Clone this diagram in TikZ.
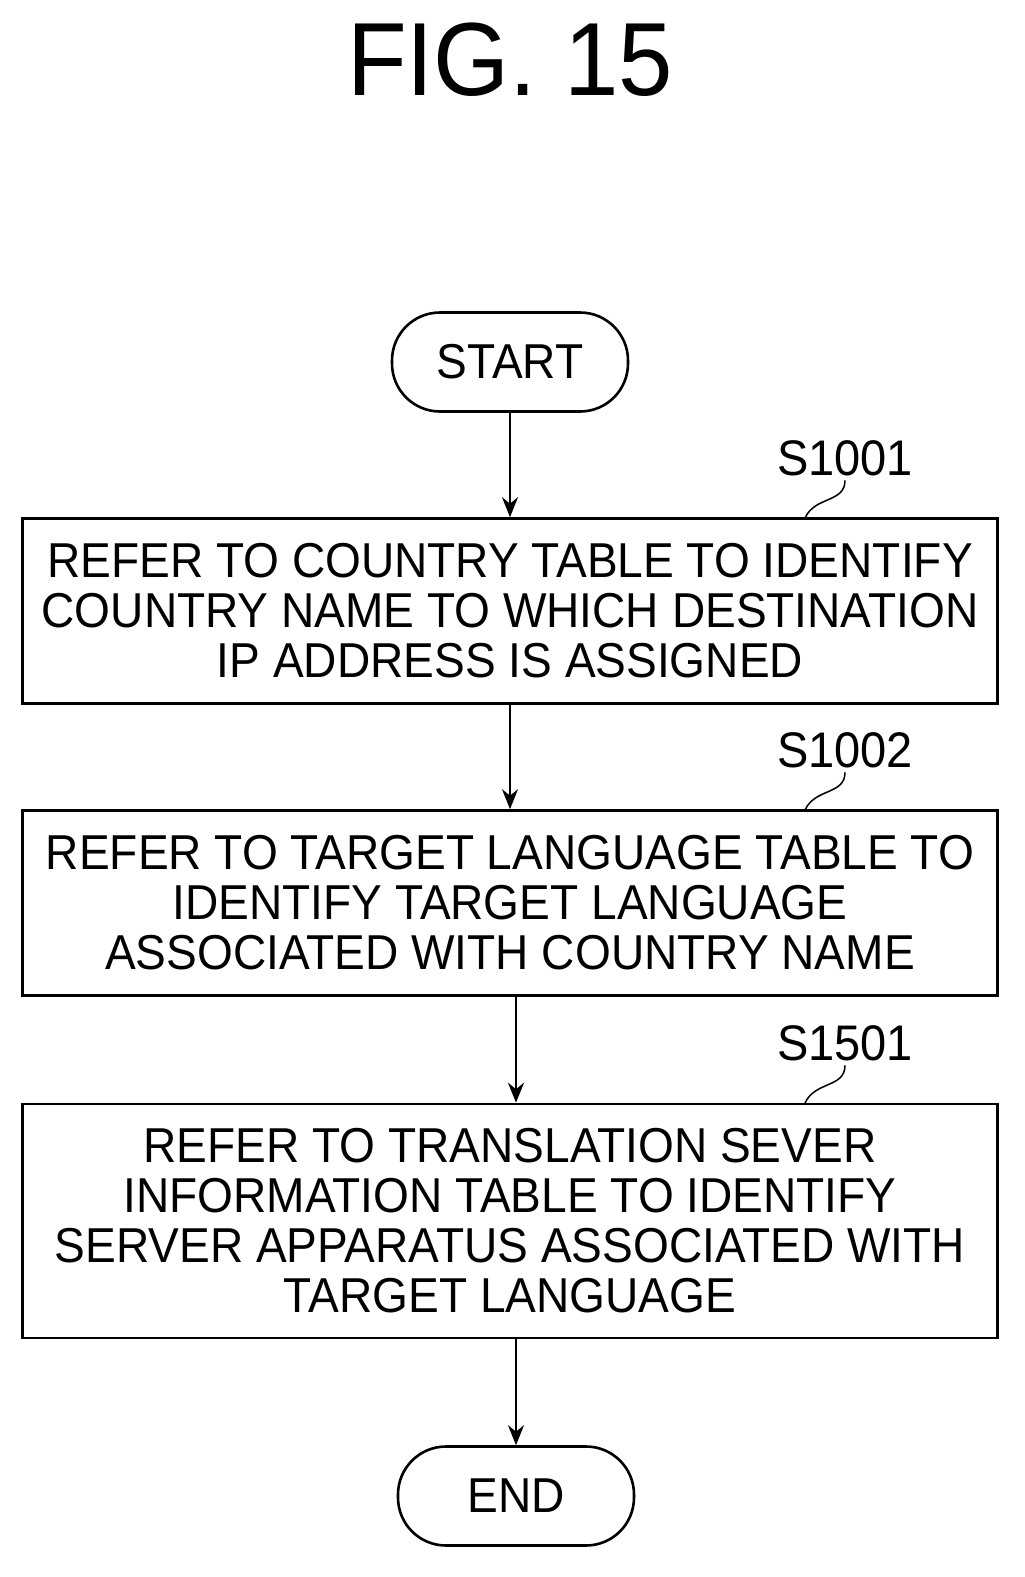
\documentclass[tikz,border=0pt]{standalone}
\usepackage{fontspec}
\setmainfont[FakeStretch=0.94]{Liberation Sans}
\usetikzlibrary{arrows.meta}
\begin{document}
\begin{tikzpicture}[x=1pt,y=-1pt,line width=2.6pt,
  box/.style={draw,minimum width=975pt,align=center,font=\fontsize{49}{50}\selectfont,inner sep=0pt},
  term/.style={draw,rounded corners=48pt,minimum width=236pt,minimum height=99pt,font=\fontsize{49}{50}\selectfont},
  lab/.style={font=\fontsize{50}{50}\selectfont},
  arr/.style={->,>={Stealth[length=20pt,width=16pt]}}]
\useasboundingbox (0,0) rectangle (1025,1577);
\node[font=\fontsize{104}{104}\selectfont] (t) at (510,60) {FIG. 15};
\node[term] (s) at (510,362) {START};
\node[box,minimum height=185pt] (b1) at (510,611) {REFER TO COUNTRY TABLE TO IDENTIFY\\COUNTRY NAME TO WHICH DESTINATION\\IP ADDRESS IS ASSIGNED};
\node[box,minimum height=185pt] (b2) at (510,903) {REFER TO TARGET LANGUAGE TABLE TO\\IDENTIFY TARGET LANGUAGE\\ASSOCIATED WITH COUNTRY NAME};
\node[box,minimum height=234pt] (b3) at (510,1221) {REFER TO TRANSLATION SEVER\\INFORMATION TABLE TO IDENTIFY\\SERVER APPARATUS ASSOCIATED WITH\\TARGET LANGUAGE};
\node[term] (e) at (516,1496) {END};
\draw[arr] (s) -- (b1);
\draw[arr] (b1) -- (b2);
\draw[arr] ([xshift=6pt]b2.south) -- ([xshift=6pt]b3.north);
\draw[arr] ([xshift=6pt]b3.south) -- (e);
\foreach \n/\y/\t in {1/458/S1001,2/750/S1002,3/1043/S1501}{
  \node[lab] (l\n) at (845,\y) {\t};
  \coordinate (c\n) at (805,\y+60);
  \draw[line width=1.5pt] (c\n) .. controls (815,\y+38) and (845,\y+45) .. (l\n.south);
}
\end{tikzpicture}
\end{document}
